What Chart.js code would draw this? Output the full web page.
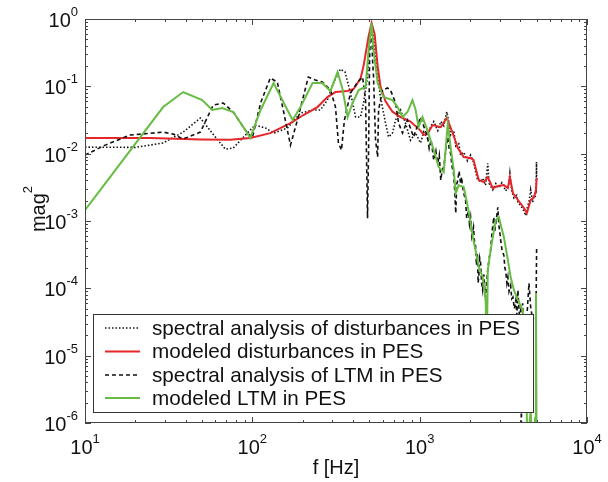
<!DOCTYPE html>
<html>
<head>
<meta charset="utf-8">
<script src="https://cdn.jsdelivr.net/npm/chart.js@4"></script>
<style>
  body { margin: 0; background: #fff; }
  canvas { display: block; }
</style>
</head>
<body>
<canvas id="psd" width="608" height="482"></canvas>
<script>
// --- DATA (frequency in Hz, magnitude squared) ---
const dotFreq = [10, 20, 29.3, 38.6, 48.9, 57.6, 68.9, 76.9, 93.3, 104,
  120, 134, 162, 194, 232, 255, 281, 305, 336, 358,
  386, 414, 443, 462, 488, 502, 523, 545, 583, 625,
  652, 688, 718, 768, 823, 881, 945, 1012, 1057, 1114,
  1161, 1214, 1283, 1337, 1393, 1452, 1492, 1530, 1599, 1643,
  1713, 1756, 1834, 1930, 2015, 2097, 2155, 2214, 2313, 2379,
  2476, 2553, 2600, 2736, 2848, 2972, 3100, 3270, 3400, 3460,
  3550, 3660, 3800, 3866, 4014, 4198, 4305, 4400, 4500, 4607,
  4740, 4820, 4900, 4955, 4970, 4990, 5000];
const dotMag = [0.0125, 0.0124, 0.0144, 0.0209, 0.0338, 0.0202, 0.0117, 0.0121, 0.0202, 0.0266,
  0.024, 0.0202, 0.024, 0.0401, 0.0445, 0.0445, 0.0625, 0.112, 0.18, 0.163,
  0.0795, 0.035, 0.035, 0.0565, 0.137, 0.54, 0.76, 0.246, 0.0693, 0.0285,
  0.0177, 0.0202, 0.0316, 0.0445, 0.0285, 0.0159, 0.0202, 0.0144, 0.021, 0.017,
  0.025, 0.03, 0.022, 0.03, 0.026, 0.042, 0.03, 0.019, 0.022, 0.013,
  0.014, 0.0095, 0.0105, 0.0078, 0.0095, 0.0075, 0.0055, 0.0042, 0.0038, 0.0043,
  0.0034, 0.0072, 0.0036, 0.0029, 0.0036, 0.0031, 0.0037, 0.0028, 0.0034, 0.0051,
  0.0028, 0.0022, 0.0024, 0.0019, 0.0017, 0.0014, 0.0012, 0.0016, 0.0019, 0.0029,
  0.0019, 0.0024, 0.0022, 0.003, 0.0026, 0.0075, 0.004];

const redFreq = [10, 24.5, 48.9, 73.8, 97.2, 128, 169, 202, 245, 281,
  314, 371, 403, 443, 462, 475, 495, 516, 538, 561,
  583, 625, 688, 768, 881, 1012, 1057, 1114, 1197, 1337,
  1452, 1577, 1690, 1834, 2015, 2097, 2255, 2416, 2553, 2736,
  2931, 3185, 3366, 3460, 3608, 3866, 4198, 4375, 4607, 4820,
  4955, 5000];
const redMag = [0.0171, 0.0171, 0.0163, 0.0161, 0.0171, 0.0202, 0.0285, 0.0375, 0.0492, 0.0693,
  0.0822, 0.0851, 0.0912, 0.13, 0.2, 0.3, 0.55, 0.87, 0.6, 0.2,
  0.1, 0.06, 0.042, 0.035, 0.03, 0.022, 0.019, 0.02, 0.0266, 0.0248,
  0.0338, 0.0202, 0.0121, 0.0089, 0.0086, 0.0081, 0.00405, 0.00378, 0.00449, 0.00308,
  0.0033, 0.00341, 0.00308, 0.00449, 0.0026, 0.00205, 0.00156, 0.00131, 0.00205, 0.00226,
  0.00288, 0.00434];

const ltmFreq = [10, 13.2, 18.6, 29.3, 33.7, 38.6, 48.9, 58.4, 67.0, 76.9,
  90.8, 99.9, 112, 128, 141, 153, 169, 186, 216, 238,
  262, 293, 314, 327, 341, 355, 386, 426, 456, 475,
  488, 495, 502, 508, 516, 523, 530, 545, 561, 568,
  600, 643, 669, 718, 748, 790, 846, 920, 1012, 1114,
  1140, 1170, 1214, 1250, 1283, 1310, 1337, 1365, 1393, 1430,
  1472, 1500, 1530, 1560, 1599, 1620, 1643, 1665, 1690, 1720,
  1756, 1780, 1805, 1840, 1880, 1910, 1957, 1985, 2015, 2050,
  2097, 2125, 2155, 2185, 2214, 2235, 2255, 2285, 2313, 2345,
  2379, 2420, 2476, 2510, 2553, 2600, 2655, 2710, 2774, 2810,
  2848, 2890, 2931, 2972, 3010, 3047, 3110, 3185, 3230, 3270,
  3320, 3366, 3420, 3497, 3550, 3608, 3680, 3758, 3810, 3866,
  3940, 4014, 4050, 4126, 4198, 4305, 4500, 4607, 4740, 4955,
  5000];
const ltmMag = [0.00953, 0.0134, 0.0189, 0.0209, 0.0195, 0.0165, 0.0209, 0.0527, 0.0565, 0.0415,
  0.0224, 0.0171, 0.0565, 0.133, 0.116, 0.0445, 0.0134, 0.0316, 0.137, 0.124,
  0.116, 0.0881, 0.0492, 0.0144, 0.0113, 0.0316, 0.0795, 0.116, 0.137, 0.0625,
  0.0011, 0.0113, 0.246, 0.687, 0.76, 0.246, 0.137, 0.0159, 0.0089, 0.0445,
  0.0881, 0.0944, 0.0881, 0.0565, 0.0285, 0.0202, 0.0316, 0.0177, 0.035, 0.0177,
  0.012, 0.016, 0.008, 0.011, 0.0072, 0.0095, 0.00405, 0.0058, 0.0063, 0.011,
  0.0177, 0.012, 0.0101, 0.0065, 0.0048, 0.0028, 0.0013, 0.0035, 0.00405, 0.0055,
  0.0036, 0.0045, 0.0032, 0.0025, 0.00205, 0.0011, 0.0014, 0.0009, 0.00114, 0.0006,
  0.00081, 0.0005, 0.00045, 0.00022, 0.000334, 0.00012, 0.000147, 0.00028, 0.00024, 0.00012,
  0.000094, 0.00016, 0.0000668, 0.00012, 0.000186, 0.00028, 0.00037, 0.0007, 0.00114, 0.0007,
  0.0009, 0.0012, 0.0016, 0.00087, 0.0007, 0.00052, 0.00036, 0.00031, 0.0002, 0.00018,
  0.00012, 0.000147, 0.00009, 0.00011, 0.00007, 0.000074, 0.00005, 0.0000668, 0.00004, 0.000094,
  0.00004, 0.0000475, 8e-7, 0.00006, 0.000005, 0.00002, 0.000119, 0.0000526, 0.0000337, 0.00004,
  0.000409];

const modFreq = [10, 29.3, 38.6, 50.2, 57.6, 66.1, 76.9, 90.8, 97.2, 112,
  134, 151, 174, 194, 229, 262, 293, 323, 345, 371,
  397, 432, 475, 495, 516, 530, 561, 608, 688, 738,
  790, 846, 906, 945, 985, 1040, 1114, 1197, 1301, 1393,
  1472, 1530, 1599, 1643, 1713, 1834, 1957, 2097, 2255, 2379,
  2476, 2520, 2553, 2655, 2848, 2972, 3185, 3366, 3497, 3660,
  3866, 4126, 4305, 4400, 4500, 4607, 4740, 4900, 4955, 5000];
const modMag = [0.00145, 0.0492, 0.0822, 0.0625, 0.0445, 0.0476, 0.0415, 0.0224, 0.0171, 0.0445,
  0.112, 0.0625, 0.0316, 0.0492, 0.112, 0.112, 0.085, 0.163, 0.094, 0.035,
  0.0565, 0.0881, 0.0977, 0.346, 0.872, 0.346, 0.112, 0.0693, 0.0625, 0.0492,
  0.035, 0.0415, 0.0625, 0.045, 0.025, 0.035, 0.022, 0.0125, 0.0063, 0.0053,
  0.028, 0.0125, 0.0057, 0.0026, 0.0034, 0.0032, 0.00145, 0.00052, 0.00021, 0.000147,
  0.000074, 0.000012, 0.000186, 0.00037, 0.00103, 0.00114, 0.00058, 0.000262, 0.000147, 0.000094,
  0.0000668, 0.0000475, 0.00001, 5e-7, 8e-7, 1.5e-6, 4e-7, 1.2e-6, 0.0000849, 3e-7];

// decades labelled on each axis, and the minor tick multipliers
const xExps = [1, 2, 3, 4];
const yExps = [-6, -5, -4, -3, -2, -1, 0];
const minorSteps = [2, 3, 4, 5, 6, 7, 8, 9];

const FONT = '"Liberation Sans", Arial, Helvetica, sans-serif';

function pts(fs, ms) {
  return fs.map((f, i) => ({ x: f, y: ms[i] }));
}

// "10" with a raised exponent
function powLabel(ctx, exp, x, y, align) {
  const base = '10', sup = String(exp);
  ctx.font = '20px ' + FONT;
  const wb = ctx.measureText(base).width;
  ctx.font = '13px ' + FONT;
  const ws = ctx.measureText(sup).width;
  const x0 = align === 'center' ? x - (wb + ws) / 2 : x - (wb + ws);
  ctx.textAlign = 'left';
  ctx.textBaseline = 'alphabetic';
  ctx.font = '20px ' + FONT;
  ctx.fillText(base, x0, y);
  ctx.font = '13px ' + FONT;
  ctx.fillText(sup, x0 + wb, y - 11);
}

// --- AXES BOX, INWARD TICKS, LABELS, LEGEND ---
const framePlugin = {
  id: 'frame',
  afterDatasetsDraw(chart) {
    const { ctx, chartArea: a, scales: { x: sx, y: sy } } = chart;
    ctx.save();

    // legend box inside the plot
    const lg = { left: 93.5, top: 314.5, w: 440, h: 98, rows: [328, 351.5, 375, 398] };
    ctx.fillStyle = '#fff';
    ctx.fillRect(lg.left, lg.top, lg.w, lg.h);
    ctx.strokeStyle = '#333';
    ctx.lineWidth = 1;
    ctx.setLineDash([]);
    ctx.strokeRect(lg.left, lg.top, lg.w, lg.h);
    chart.data.datasets.forEach((ds, i) => {
      const yy = lg.rows[i];
      ctx.strokeStyle = ds.borderColor;
      ctx.lineWidth = ds.borderWidth;
      ctx.setLineDash(ds.borderDash || []);
      ctx.beginPath();
      ctx.moveTo(105, yy);
      ctx.lineTo(140, yy);
      ctx.stroke();
      ctx.setLineDash([]);
      ctx.fillStyle = '#111';
      ctx.font = '20.7px ' + FONT;
      ctx.textAlign = 'left';
      ctx.textBaseline = 'middle';
      ctx.fillText(ds.label, 152, yy + 1);
    });

    // ticks
    ctx.strokeStyle = '#444';
    ctx.lineWidth = 1;
    ctx.beginPath();
    const xMax = Math.pow(10, xExps[xExps.length - 1]);
    xExps.forEach(e => {
      [1].concat(minorSteps).forEach(m => {
        const v = m * Math.pow(10, e);
        if (v > xMax) return;
        const px = Math.round(sx.getPixelForValue(v)) + 0.5;
        const len = m === 1 ? 6 : 3;
        ctx.moveTo(px, a.bottom); ctx.lineTo(px, a.bottom - len);
        ctx.moveTo(px, a.top); ctx.lineTo(px, a.top + len);
      });
    });
    const yMax = Math.pow(10, yExps[yExps.length - 1]);
    yExps.forEach(e => {
      [1].concat(minorSteps).forEach(m => {
        const v = m * Math.pow(10, e);
        if (v > yMax) return;
        const py = Math.round(sy.getPixelForValue(v)) + 0.5;
        const len = m === 1 ? 6 : 3;
        ctx.moveTo(a.left, py); ctx.lineTo(a.left + len, py);
        ctx.moveTo(a.right, py); ctx.lineTo(a.right - len, py);
      });
    });
    ctx.stroke();
    ctx.strokeRect(Math.round(a.left) + 0.5, Math.round(a.top) + 0.5,
      Math.round(a.width) - 1, Math.round(a.height) - 1);

    // tick labels
    ctx.fillStyle = '#111';
    xExps.forEach(e => {
      powLabel(ctx, e, sx.getPixelForValue(Math.pow(10, e)), a.bottom + 31, 'center');
    });
    yExps.forEach(e => {
      powLabel(ctx, e, a.left - 7, sy.getPixelForValue(Math.pow(10, e)) + 8, 'right');
    });

    // axis titles
    ctx.font = '20px ' + FONT;
    ctx.textAlign = 'center';
    ctx.textBaseline = 'alphabetic';
    ctx.fillText('f [Hz]', (a.left + a.right) / 2, 474);

    ctx.translate(45, 209);
    ctx.rotate(-Math.PI / 2);
    const wMag = ctx.measureText('mag').width;
    ctx.font = '13px ' + FONT;
    const wSup = ctx.measureText('2').width;
    const start = -(wMag + wSup) / 2;
    ctx.textAlign = 'left';
    ctx.font = '20px ' + FONT;
    ctx.fillText('mag', start, 0);
    ctx.font = '13px ' + FONT;
    ctx.fillText('2', start + wMag, -13);

    ctx.restore();
  }
};

new Chart(document.getElementById('psd'), {
  type: 'line',
  data: {
    datasets: [
      { label: 'spectral analysis of disturbances in PES', data: pts(dotFreq, dotMag),
        borderColor: '#111', borderWidth: 1.6, borderDash: [1.5, 2], order: 4 },
      { label: 'modeled disturbances in PES', data: pts(redFreq, redMag),
        borderColor: '#e5262b', borderWidth: 2, order: 3 },
      { label: 'spectral analysis of LTM in PES', data: pts(ltmFreq, ltmMag),
        borderColor: '#111', borderWidth: 1.6, borderDash: [4, 3], order: 2 },
      { label: 'modeled LTM in PES', data: pts(modFreq, modMag),
        borderColor: '#68bc43', borderWidth: 2, order: 1 }
    ]
  },
  options: {
    responsive: false,
    animation: false,
    elements: { point: { radius: 0 }, line: { tension: 0 } },
    layout: { padding: { left: 85, top: 19, right: 21, bottom: 59 } },
    scales: {
      x: { type: 'logarithmic', min: 10, max: 10000, display: false },
      y: { type: 'logarithmic', min: 1e-6, max: 1, display: false }
    },
    plugins: { legend: { display: false }, tooltip: { enabled: false } }
  },
  plugins: [framePlugin]
});
</script>
</body>
</html>
